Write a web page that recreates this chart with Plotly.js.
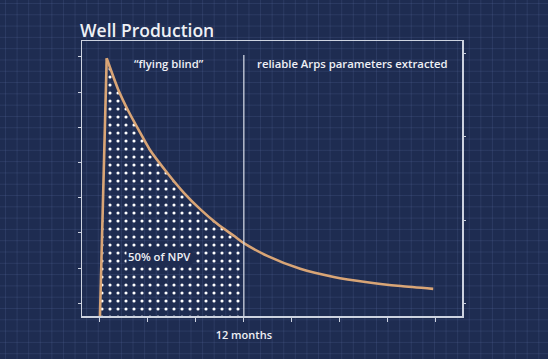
<!DOCTYPE html>
<html>
<head>
<meta charset="utf-8">
<script src="https://cdn.plot.ly/plotly-3.0.1.min.js"></script>
<style>
  html, body { margin: 0; padding: 0; }
  body {
    width: 548px; height: 359px; overflow: hidden;
    background-color: #1e2c51;
    background-image:
      linear-gradient(rgba(120,140,195,0.15) 1px, transparent 1px),
      linear-gradient(90deg, rgba(120,140,195,0.15) 1px, transparent 1px);
    background-size: 11.6px 11.3px;
    background-position: 5px 3px;
  }
  #chart { width: 548px; height: 359px; }
</style>
</head>
<body>
<div id="chart"></div>
<script>
// ---- data (months since first production, relative production rate) ----
const months     = [0, 0.56, 1.5, 2.4, 3.2, 4.2, 5.6, 7.0, 8.4, 9.8, 11.2, 12.0, 14.0, 16.7, 19.5, 22.3, 25.1, 27.8];
const production = [0, 7.32, 6.45, 5.8, 5.3, 4.7, 4.07, 3.5, 3.02, 2.61, 2.27, 2.07, 1.70, 1.34, 1.11, 0.96, 0.85, 0.77];
const splitMonth = 12;            // end of the "flying blind" period
const splitLineTop = 7.41;        // top of the divider line (production units)
const xTickVals  = [0, 4, 8, 12, 16, 20, 24, 28];
const xTickText  = ['', '', '', '12 months', '', '', '', ''];
const labelBlind = '\u201Cflying blind\u201D';
const labelArps  = 'reliable Arps parameters extracted';
const labelNPV   = '50% of NPV';
const titleText  = 'Well Production';

// early-period subset for the dotted NPV area
const earlyX = [], earlyY = [];
months.forEach((m, i) => { if (m <= splitMonth) { earlyX.push(m); earlyY.push(production[i]); } });
// rising edge and decline as separate line pieces (sharp peak)
const riseX = months.slice(0, 2), riseY = production.slice(0, 2);
const declX = months.slice(1), declY = production.slice(1);

const axisCol = 'rgba(215,220,232,0.95)';
const textCol = '#eef0f5';
const lineCol = '#d9a576';
const fontFam = '"Open Sans", "DejaVu Sans", sans-serif';

const traces = [
  {
    x: earlyX, y: earlyY, type: 'scatter', mode: 'none',
    fill: 'tozeroy', fillcolor: 'rgba(0,0,0,0)',
    fillpattern: { shape: '.', fgcolor: '#ffffff', bgcolor: 'rgba(0,0,0,0)', size: 8, solidity: 0.12 },
    hoverinfo: 'skip', showlegend: false
  },
  {
    x: riseX, y: riseY, type: 'scatter', mode: 'lines',
    line: { color: lineCol, width: 2.6 }, hoverinfo: 'skip', showlegend: false
  },
  {
    x: declX, y: declY, type: 'scatter', mode: 'lines',
    line: { color: lineCol, width: 2.6, shape: 'spline', smoothing: 0.6 },
    hoverinfo: 'skip', showlegend: false
  },
  { x: [null], y: [null], yaxis: 'y2', type: 'scatter', mode: 'lines', hoverinfo: 'skip', showlegend: false }
];

const layout = {
  width: 548, height: 359,
  margin: { l: 82, r: 86, t: 41, b: 43 },
  paper_bgcolor: 'rgba(0,0,0,0)',
  plot_bgcolor: 'rgba(0,0,0,0)',
  font: { family: fontFam, color: textCol, size: 11 },
  showlegend: false,
  title: {
    text: titleText, xref: 'container', yref: 'container',
    x: 80 / 548, xanchor: 'left', y: 1 - 31 / 359, yanchor: 'middle',
    font: { family: fontFam, size: 17.5, color: textCol, weight: 600 }
  },
  xaxis: {
    range: [-1.5, 30.2], showgrid: false, zeroline: false,
    showline: true, linecolor: axisCol, linewidth: 1.5, mirror: true,
    ticks: 'outside', ticklen: 4, tickwidth: 1, tickcolor: axisCol,
    tickvals: xTickVals, ticktext: xTickText, ticklabelstandoff: 4,
    tickfont: { family: fontFam, size: 11, color: textCol, weight: 600 }
  },
  yaxis: {
    range: [0, 7.81], showgrid: false, zeroline: false,
    showline: true, linecolor: axisCol, linewidth: 1.5,
    ticks: 'outside', ticklen: 3, tickwidth: 1, tickcolor: axisCol,
    tick0: 0.36, dtick: 1, showticklabels: false
  },
  yaxis2: {
    overlaying: 'y', side: 'right', range: [0, 3.30],
    showgrid: false, zeroline: false,
    showline: true, linecolor: axisCol, linewidth: 1.5,
    ticks: 'outside', ticklen: 2, tickwidth: 1, tickcolor: axisCol,
    tick0: 0.152, dtick: 1, showticklabels: false
  },
  shapes: [{
    type: 'line', xref: 'x', yref: 'y',
    x0: splitMonth, x1: splitMonth, y0: 0, y1: splitLineTop,
    line: { color: axisCol, width: 1.3 }
  }],
  annotations: [
    { text: labelBlind, x: 5.77, y: 7.16, xref: 'x', yref: 'y', showarrow: false,
      font: { family: fontFam, size: 11.3, color: textCol, weight: 600 } },
    { text: labelArps, x: 21.1, y: 7.16, xref: 'x', yref: 'y', showarrow: false,
      font: { family: fontFam, size: 11.3, color: textCol, weight: 600 } },
    { text: labelNPV, x: 5.0, y: 1.70, xref: 'x', yref: 'y', showarrow: false,
      bgcolor: '#1e2c51', borderpad: 1,
      font: { family: fontFam, size: 11.3, color: textCol, weight: 600 } }
  ]
};

Plotly.newPlot('chart', traces, layout, { displayModeBar: false, staticPlot: true });
</script>
</body>
</html>
